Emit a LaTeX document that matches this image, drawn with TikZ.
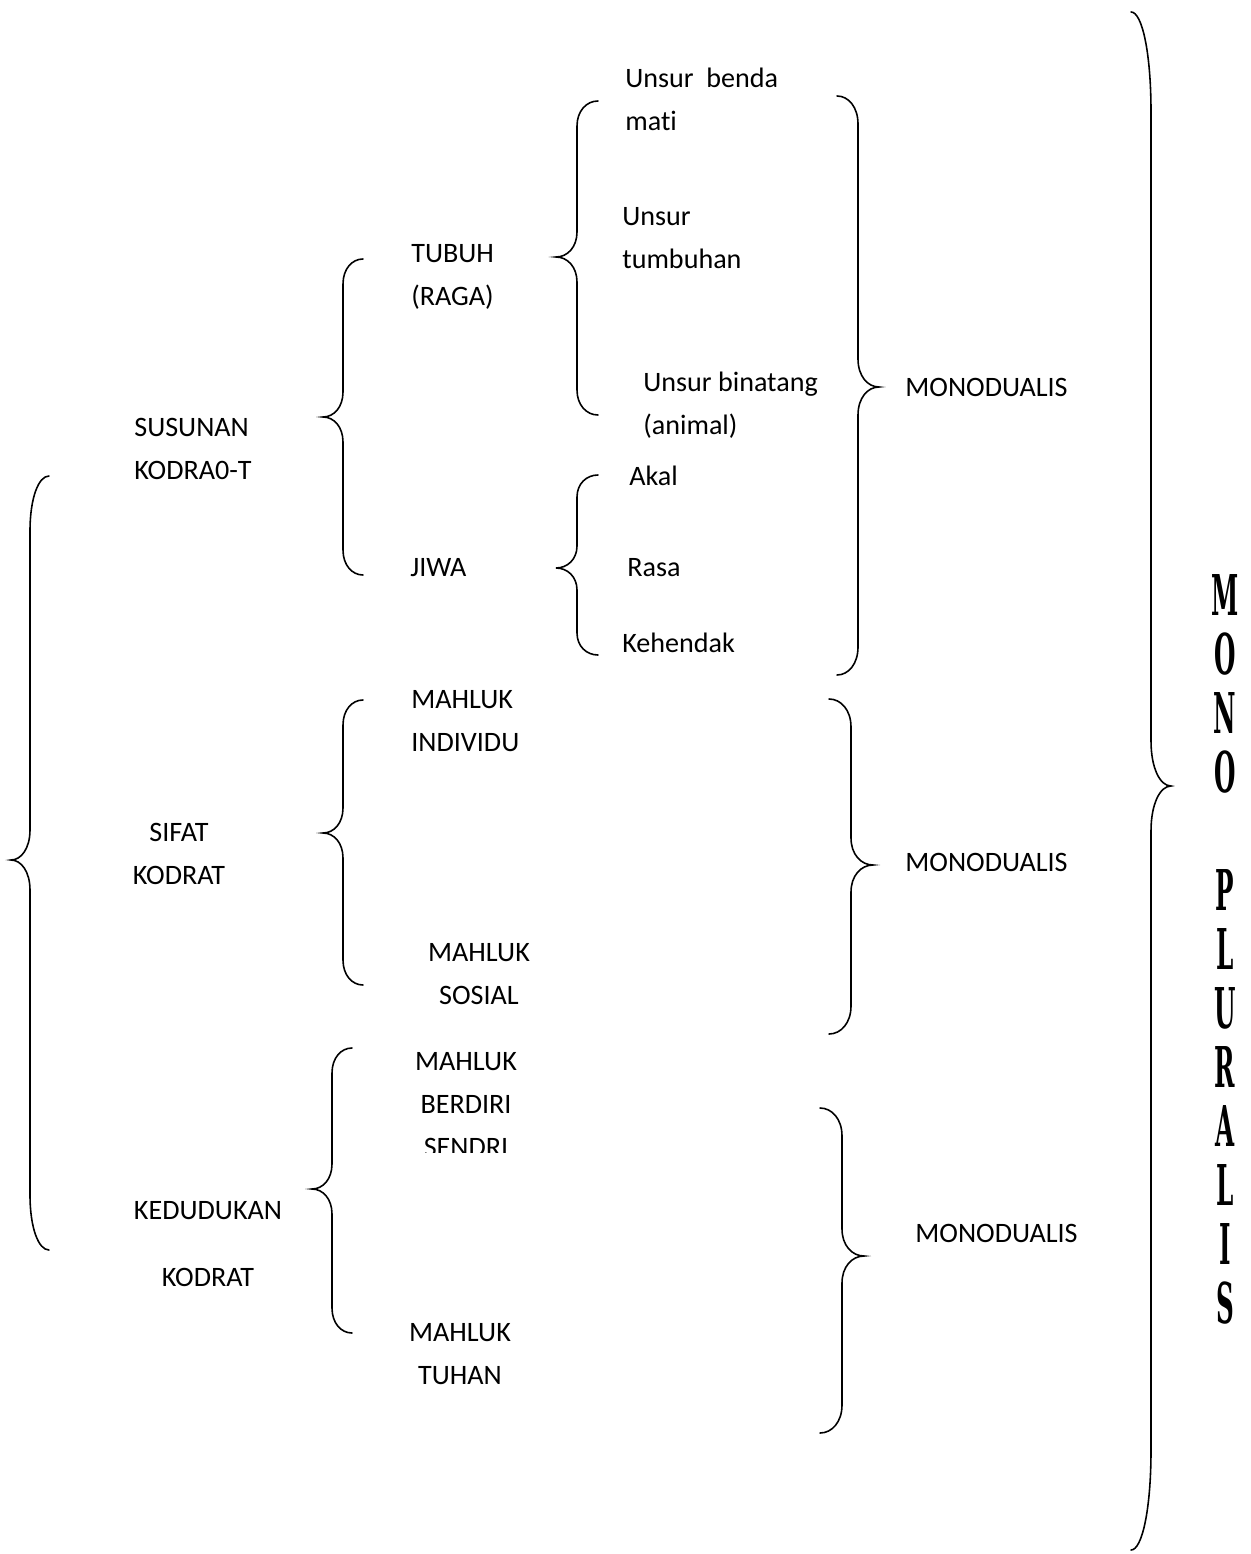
\documentclass[tikz,border=0pt]{standalone}
\usepackage{fontspec}
\setmainfont[Ligatures=NoCommon]{Carlito}
\newfontfamily\judulfont{DejaVu Serif}
\usepackage{graphicx}
\usetikzlibrary{positioning}

% curly bracket: x of the line, top, tip, bottom, width (+ opens right, - closes), end curl, tip curl
\newcommand{\kurung}[7]{%
  \draw[kurawal] ({#1+(#5)},#2) .. controls ({#1+0.45*(#5)},#2) and (#1,{#2+0.4*(#6)}) .. (#1,{#2+#6})
    -- (#1,{#3-(#7)}) .. controls (#1,{#3-0.4*(#7)}) and ({#1-0.45*(#5)},#3) .. ({#1-(#5)},#3)
    .. controls ({#1-0.45*(#5)},#3) and (#1,{#3+0.4*(#7)}) .. (#1,{#3+#7})
    -- (#1,{#4-(#6)}) .. controls (#1,{#4-0.4*(#6)}) and ({#1+0.45*(#5)},#4) .. ({#1+(#5)},#4);}

\begin{document}
\begin{tikzpicture}[x=0.02cm,y=-0.02cm,
    kurawal/.style={line width=0.9pt,line cap=round},
    teks/.style={font=\fontsize{16}{24.5}\selectfont,inner sep=0pt,align=left},
    tengah/.style={teks,align=center},
    huruf/.style={inner sep=0pt,font=\judulfont\bfseries\fontsize{20}{20}\selectfont}]
    \useasboundingbox (0,0) rectangle (1250,1554);

    % Susunan kodrat
    \node[teks,anchor=west] (susunan) at (134,449) {SUSUNAN\\KODRA0-T};
    \node[teks,anchor=west] (tubuh) at (411,277) {TUBUH\\(RAGA)};
    \node[teks,anchor=west] (jiwa) at (410,568) {JIWA};
    \node[teks,anchor=west] (benda) at (625,99) {Unsur\ \ benda\\mati};
    \node[teks,anchor=west] (tumbuhan) at (622,238) {Unsur\\tumbuhan};
    \node[teks,anchor=west] (binatang) at (643,405) {Unsur binatang\\(animal)};
    \node[teks,anchor=west] (akal) at (629,476) {Akal};
    \node[teks,anchor=west] (rasa) at (627,568) {Rasa};
    \node[teks,anchor=west] (kehendak) at (622,643) {Kehendak};
    \node[teks,anchor=west] (mono1) at (905,387) {MONODUALIS};

    \kurung{343}{259}{417}{575}{20}{25}{25}
    \kurung{577}{101}{257}{415}{21}{25}{25}
    \kurung{577}{475}{568}{655}{21}{22}{22}
    \kurung{858}{96}{387}{675}{-21}{28}{28}

    % Sifat kodrat
    \node[tengah] (sifat) at (179,854) {SIFAT\\KODRAT};
    \node[teks,anchor=west] (individu) at (411,721) {MAHLUK\\INDIVIDU};
    \node[tengah] (sosial) at (479,974) {MAHLUK\\SOSIAL};
    \node[teks,anchor=west] (mono2) at (905,862) {MONODUALIS};

    \kurung{343}{700}{833}{985}{20}{25}{25}
    \kurung{851}{699}{865}{1034}{-22}{28}{27}

    % Kedudukan kodrat
    \node[tengah] (kedudukan) at (208,1244) {KEDUDUKAN\\[14pt]KODRAT};
    \begin{scope}
        \clip (380,1030) rectangle (560,1152);
        \node[tengah,anchor=north] (berdiri) at (466,1052) {MAHLUK\\BERDIRI\\SENDRI};
    \end{scope}
    \node[tengah] (tuhan) at (460,1354) {MAHLUK\\TUHAN};
    \node[teks,anchor=west] (mono3) at (915,1233) {MONODUALIS};

    \kurung{332}{1048}{1189}{1333}{20}{25}{25}
    \kurung{842}{1108}{1256}{1433}{-22}{28}{27}

    % the whole: left and right brackets
    \kurung{30}{476}{860}{1250}{19}{55}{30}
    \kurung{1151}{12}{786}{1550}{-20}{100}{45}

    % Mono pluralis, standing letters
    \foreach \h/\s in {M/0,O/1,N/2,O/3,P/5,L/6,U/7,R/8,A/9,L/10,I/11,S/12}
        \node[huruf] (h\s) at (1225,{595+59*\s}) {\scalebox{0.7}[1.6]{\h}};
\end{tikzpicture}
\end{document}
